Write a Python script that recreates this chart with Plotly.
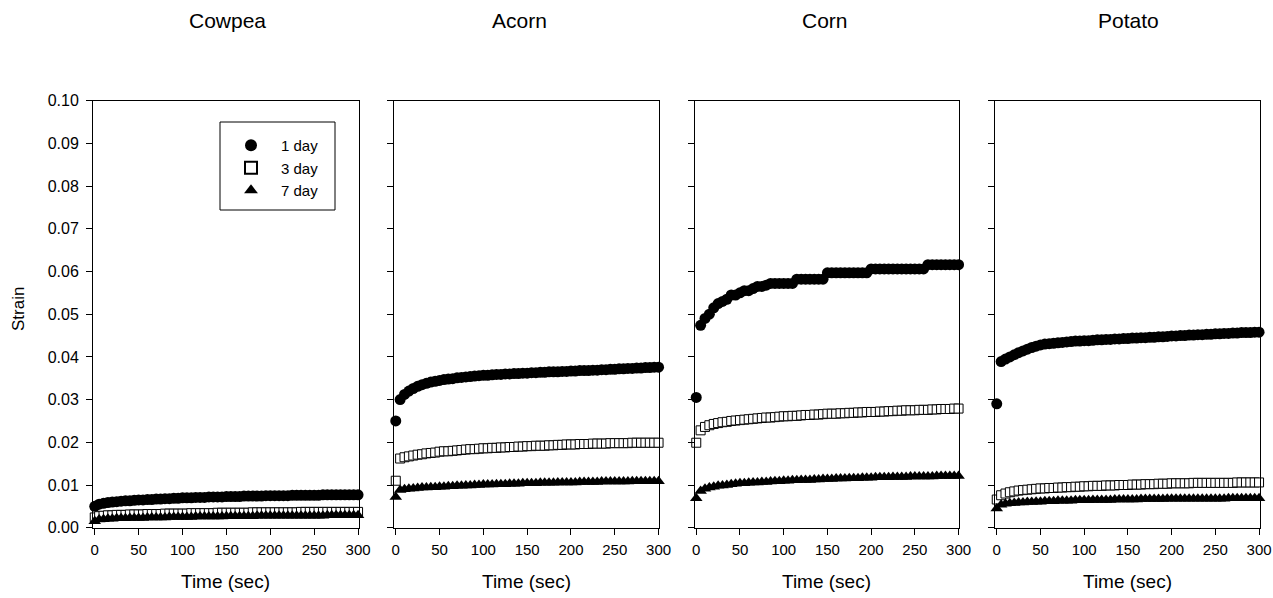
import plotly.graph_objects as go

# ---------------- data ----------------
time_sec = [0, 5, 10, 15, 20, 25, 30, 35, 40, 45, 50,
            55, 60, 65, 70, 75, 80, 85, 90, 95, 100,
            105, 110, 115, 120, 125, 130, 135, 140, 145, 150,
            155, 160, 165, 170, 175, 180, 185, 190, 195, 200,
            205, 210, 215, 220, 225, 230, 235, 240, 245, 250,
            255, 260, 265, 270, 275, 280, 285, 290, 295, 300]

panels = ["Cowpea", "Acorn", "Corn", "Potato"]
series_names = ["1 day", "3 day", "7 day"]

cowpea_1day = [0.0050, 0.0055, 0.0057, 0.0059, 0.0060, 0.0061, 0.0062, 0.0063, 0.0063, 0.0064, 0.0065,
               0.0065, 0.0066, 0.0066, 0.0067, 0.0067, 0.0068, 0.0068, 0.0069, 0.0069, 0.0070,
               0.0070, 0.0070, 0.0071, 0.0071, 0.0071, 0.0072, 0.0072, 0.0072, 0.0072, 0.0073,
               0.0073, 0.0073, 0.0073, 0.0074, 0.0074, 0.0074, 0.0074, 0.0074, 0.0075, 0.0075,
               0.0075, 0.0075, 0.0075, 0.0075, 0.0076, 0.0076, 0.0076, 0.0076, 0.0076, 0.0076,
               0.0076, 0.0077, 0.0077, 0.0077, 0.0077, 0.0077, 0.0077, 0.0077, 0.0077, 0.0077]
cowpea_3day = [0.0024, 0.0027, 0.0028, 0.0029, 0.0029, 0.0030, 0.0030, 0.0030, 0.0031, 0.0031, 0.0031,
               0.0031, 0.0032, 0.0032, 0.0032, 0.0032, 0.0033, 0.0033, 0.0033, 0.0033, 0.0033,
               0.0033, 0.0034, 0.0034, 0.0034, 0.0034, 0.0034, 0.0034, 0.0035, 0.0035, 0.0035,
               0.0035, 0.0035, 0.0035, 0.0035, 0.0035, 0.0036, 0.0036, 0.0036, 0.0036, 0.0036,
               0.0036, 0.0036, 0.0036, 0.0036, 0.0036, 0.0036, 0.0037, 0.0037, 0.0037, 0.0037,
               0.0037, 0.0037, 0.0037, 0.0037, 0.0037, 0.0037, 0.0037, 0.0037, 0.0037, 0.0037]
cowpea_7day = [0.0015, 0.0019, 0.0020, 0.0021, 0.0021, 0.0022, 0.0022, 0.0022, 0.0023, 0.0023, 0.0023,
               0.0023, 0.0024, 0.0024, 0.0024, 0.0024, 0.0024, 0.0025, 0.0025, 0.0025, 0.0025,
               0.0025, 0.0025, 0.0026, 0.0026, 0.0026, 0.0026, 0.0026, 0.0026, 0.0026, 0.0027,
               0.0027, 0.0027, 0.0027, 0.0027, 0.0027, 0.0027, 0.0028, 0.0028, 0.0028, 0.0028,
               0.0028, 0.0028, 0.0028, 0.0028, 0.0028, 0.0028, 0.0028, 0.0028, 0.0028, 0.0028,
               0.0028, 0.0028, 0.0029, 0.0029, 0.0029, 0.0029, 0.0029, 0.0029, 0.0029, 0.0029]

acorn_1day = [0.0250, 0.0300, 0.0312, 0.0320, 0.0326, 0.0331, 0.0335, 0.0338, 0.0341, 0.0343, 0.0345,
              0.0347, 0.0348, 0.0349, 0.0351, 0.0352, 0.0353, 0.0354, 0.0355, 0.0356, 0.0357,
              0.0357, 0.0358, 0.0359, 0.0359, 0.0360, 0.0360, 0.0361, 0.0361, 0.0362, 0.0362,
              0.0363, 0.0363, 0.0364, 0.0364, 0.0365, 0.0365, 0.0365, 0.0366, 0.0366, 0.0367,
              0.0367, 0.0368, 0.0368, 0.0368, 0.0369, 0.0369, 0.0370, 0.0370, 0.0371, 0.0371,
              0.0372, 0.0372, 0.0373, 0.0373, 0.0374, 0.0374, 0.0375, 0.0375, 0.0376, 0.0376]
acorn_3day = [0.0110, 0.0162, 0.0165, 0.0167, 0.0169, 0.0171, 0.0172, 0.0174, 0.0175, 0.0176, 0.0178,
              0.0179, 0.0179, 0.0180, 0.0181, 0.0182, 0.0183, 0.0184, 0.0184, 0.0185, 0.0186,
              0.0186, 0.0187, 0.0187, 0.0188, 0.0188, 0.0189, 0.0189, 0.0190, 0.0190, 0.0191,
              0.0191, 0.0192, 0.0192, 0.0192, 0.0193, 0.0193, 0.0194, 0.0194, 0.0195, 0.0195,
              0.0195, 0.0196, 0.0196, 0.0196, 0.0197, 0.0197, 0.0197, 0.0197, 0.0198, 0.0198,
              0.0198, 0.0198, 0.0198, 0.0199, 0.0199, 0.0199, 0.0199, 0.0199, 0.0199, 0.0199]
acorn_7day = [0.0072, 0.0088, 0.0090, 0.0091, 0.0092, 0.0093, 0.0094, 0.0094, 0.0095, 0.0095, 0.0096,
              0.0096, 0.0097, 0.0097, 0.0098, 0.0098, 0.0099, 0.0099, 0.0100, 0.0100, 0.0101,
              0.0101, 0.0101, 0.0102, 0.0102, 0.0102, 0.0103, 0.0103, 0.0103, 0.0104, 0.0104,
              0.0104, 0.0104, 0.0105, 0.0105, 0.0105, 0.0105, 0.0106, 0.0106, 0.0106, 0.0106,
              0.0106, 0.0107, 0.0107, 0.0107, 0.0107, 0.0107, 0.0108, 0.0108, 0.0108, 0.0108,
              0.0108, 0.0108, 0.0108, 0.0109, 0.0109, 0.0109, 0.0109, 0.0109, 0.0109, 0.0109]

corn_1day = [0.0305, 0.0474, 0.0490, 0.0500, 0.0515, 0.0525, 0.0530, 0.0535, 0.0545, 0.0545, 0.0550,
             0.0555, 0.0555, 0.0560, 0.0565, 0.0565, 0.0568, 0.0572, 0.0572, 0.0572, 0.0572,
             0.0572, 0.0572, 0.0582, 0.0582, 0.0582, 0.0582, 0.0582, 0.0582, 0.0582, 0.0597,
             0.0597, 0.0597, 0.0597, 0.0597, 0.0597, 0.0597, 0.0597, 0.0597, 0.0597, 0.0606,
             0.0606, 0.0606, 0.0606, 0.0606, 0.0606, 0.0606, 0.0606, 0.0606, 0.0606, 0.0606,
             0.0606, 0.0606, 0.0616, 0.0616, 0.0616, 0.0616, 0.0616, 0.0616, 0.0616, 0.0616]
corn_3day = [0.0199, 0.0228, 0.0236, 0.0240, 0.0243, 0.0245, 0.0247, 0.0248, 0.0250, 0.0251, 0.0252,
             0.0253, 0.0254, 0.0255, 0.0256, 0.0257, 0.0258, 0.0258, 0.0259, 0.0260, 0.0261,
             0.0261, 0.0262, 0.0262, 0.0263, 0.0264, 0.0264, 0.0265, 0.0265, 0.0266, 0.0267,
             0.0267, 0.0267, 0.0268, 0.0268, 0.0269, 0.0269, 0.0270, 0.0270, 0.0271, 0.0271,
             0.0271, 0.0272, 0.0272, 0.0273, 0.0273, 0.0274, 0.0274, 0.0275, 0.0275, 0.0275,
             0.0276, 0.0276, 0.0276, 0.0277, 0.0277, 0.0278, 0.0278, 0.0278, 0.0279, 0.0279]
corn_7day = [0.0069, 0.0086, 0.0091, 0.0094, 0.0096, 0.0098, 0.0099, 0.0100, 0.0102, 0.0103, 0.0104,
             0.0104, 0.0105, 0.0106, 0.0106, 0.0107, 0.0107, 0.0108, 0.0109, 0.0109, 0.0110,
             0.0110, 0.0111, 0.0111, 0.0112, 0.0112, 0.0112, 0.0113, 0.0113, 0.0114, 0.0114,
             0.0114, 0.0115, 0.0115, 0.0115, 0.0116, 0.0116, 0.0116, 0.0117, 0.0117, 0.0117,
             0.0118, 0.0118, 0.0118, 0.0118, 0.0119, 0.0119, 0.0119, 0.0119, 0.0120, 0.0120,
             0.0120, 0.0120, 0.0120, 0.0120, 0.0121, 0.0121, 0.0121, 0.0121, 0.0121, 0.0121]

potato_1day = [0.0290, 0.0389, 0.0395, 0.0400, 0.0405, 0.0410, 0.0414, 0.0418, 0.0422, 0.0425, 0.0428,
               0.0430, 0.0431, 0.0432, 0.0433, 0.0434, 0.0435, 0.0436, 0.0437, 0.0437, 0.0438,
               0.0438, 0.0439, 0.0440, 0.0440, 0.0441, 0.0441, 0.0442, 0.0442, 0.0443, 0.0443,
               0.0444, 0.0444, 0.0445, 0.0445, 0.0446, 0.0446, 0.0447, 0.0447, 0.0448, 0.0449,
               0.0449, 0.0450, 0.0450, 0.0451, 0.0451, 0.0452, 0.0452, 0.0453, 0.0453, 0.0454,
               0.0454, 0.0455, 0.0455, 0.0456, 0.0456, 0.0457, 0.0457, 0.0457, 0.0458, 0.0458]
potato_3day = [0.0066, 0.0076, 0.0080, 0.0083, 0.0085, 0.0087, 0.0088, 0.0089, 0.0090, 0.0091, 0.0092,
               0.0092, 0.0093, 0.0093, 0.0094, 0.0094, 0.0095, 0.0095, 0.0096, 0.0096, 0.0097,
               0.0097, 0.0098, 0.0098, 0.0098, 0.0099, 0.0099, 0.0099, 0.0100, 0.0100, 0.0100,
               0.0101, 0.0101, 0.0101, 0.0102, 0.0102, 0.0102, 0.0103, 0.0103, 0.0103, 0.0104,
               0.0104, 0.0104, 0.0104, 0.0104, 0.0105, 0.0105, 0.0105, 0.0105, 0.0105, 0.0105,
               0.0105, 0.0105, 0.0105, 0.0105, 0.0106, 0.0106, 0.0106, 0.0106, 0.0106, 0.0106]
potato_7day = [0.0045, 0.0054, 0.0056, 0.0057, 0.0058, 0.0059, 0.0059, 0.0060, 0.0060, 0.0061, 0.0061,
               0.0062, 0.0062, 0.0062, 0.0063, 0.0063, 0.0063, 0.0063, 0.0064, 0.0064, 0.0064,
               0.0064, 0.0065, 0.0065, 0.0065, 0.0065, 0.0065, 0.0066, 0.0066, 0.0066, 0.0066,
               0.0066, 0.0066, 0.0067, 0.0067, 0.0067, 0.0067, 0.0067, 0.0067, 0.0068, 0.0068,
               0.0068, 0.0068, 0.0068, 0.0068, 0.0068, 0.0068, 0.0068, 0.0068, 0.0068, 0.0068,
               0.0068, 0.0068, 0.0069, 0.0069, 0.0069, 0.0069, 0.0069, 0.0069, 0.0069, 0.0069]

panel_series = [
    [cowpea_1day, cowpea_3day, cowpea_7day],
    [acorn_1day, acorn_3day, acorn_7day],
    [corn_1day, corn_3day, corn_7day],
    [potato_1day, potato_3day, potato_7day],
]

x_ticks = [0, 50, 100, 150, 200, 250, 300]
y_ticks = [0.00, 0.01, 0.02, 0.03, 0.04, 0.05, 0.06, 0.07, 0.08, 0.09, 0.10]

# ---------------- layout helpers ----------------
W, H = 1273, 598
FONT = "Liberation Sans, Arial, sans-serif"
px_domains = [(93, 358.5), (394, 659), (694.5, 959), (995, 1259.5)]
title_px = [227, 519, 825, 1128]
y_dom = [1 - 527.7 / H, 1 - 100.7 / H]

marker_styles = [
    dict(symbol="circle", size=11, color="black", line=dict(color="black", width=0)),
    dict(symbol="square", size=9, color="white", line=dict(color="black", width=1)),
    dict(symbol="triangle-up", size=11, color="black", line=dict(color="black", width=0)),
]

fig = go.Figure()
layout = dict(
    width=W, height=H,
    margin=dict(l=0, r=0, t=0, b=0, autoexpand=False),
    paper_bgcolor="white", plot_bgcolor="white",
    font=dict(family=FONT, color="black", size=14),
    showlegend=True,
)

annotations = []
for i, name in enumerate(panels):
    ax = "" if i == 0 else str(i + 1)
    xref = "x" + ax
    yref = "y" + ax
    for j, sname in enumerate(series_names):
        fig.add_trace(go.Scatter(
            x=time_sec, y=panel_series[i][j], mode="markers",
            name=sname, legendgroup=sname, showlegend=(i == 0),
            marker=marker_styles[j], xaxis=xref, yaxis=yref,
            cliponaxis=False,
        ))
    d0, d1 = px_domains[i]
    layout["xaxis" + ax] = dict(
        domain=[d0 / W, d1 / W], range=[-2, 300.5],
        tickmode="array", tickvals=x_ticks, ticktext=[str(v) for v in x_ticks],
        ticks="outside", ticklen=6, tickwidth=1, tickcolor="black",
        showline=True, linecolor="black", linewidth=1, mirror=True,
        showgrid=False, zeroline=False, anchor=yref,
        tickfont=dict(size=15, family=FONT, color="black"),
        ticklabelstandoff=2,
        automargin=False,
    )
    layout["yaxis" + ax] = dict(
        domain=y_dom, range=[0, 0.10],
        tickmode="array", tickvals=y_ticks,
        ticktext=[f"{v:.2f}" for v in y_ticks],
        showticklabels=(i == 0),
        ticks="outside", ticklen=6, tickwidth=1, tickcolor="black",
        showline=True, linecolor="black", linewidth=1, mirror=True,
        showgrid=False, zeroline=False, anchor=xref,
        tickfont=dict(size=16, family=FONT, color="black"),
        ticklabelstandoff=4,
        automargin=False,
    )
    cx = (d0 + d1) / 2 / W
    annotations.append(dict(text=name, x=title_px[i] / W, y=1 - 21 / H, xref="paper", yref="paper",
                            showarrow=False, xanchor="center", yanchor="middle",
                            font=dict(size=21, family=FONT, color="black")))
    annotations.append(dict(text="Time (sec)", x=cx, y=1 - 581 / H, xref="paper", yref="paper",
                            showarrow=False, xanchor="center", yanchor="middle",
                            font=dict(size=19, family=FONT, color="black")))

annotations.append(dict(text="Strain", x=18 / W, y=1 - 309 / H, xref="paper", yref="paper",
                        showarrow=False, xanchor="center", yanchor="middle", textangle=-90,
                        font=dict(size=17, family=FONT, color="black")))

layout["annotations"] = annotations
layout["shapes"] = [dict(type="rect", xref="paper", yref="paper",
                         x0=220 / W, x1=335 / W, y0=1 - 210 / H, y1=1 - 122 / H,
                         line=dict(color="black", width=1), fillcolor="rgba(0,0,0,0)")]
layout["legend"] = dict(
    x=221 / W, y=1 - 129 / H, xanchor="left", yanchor="top",
    bgcolor="rgba(0,0,0,0)", borderwidth=0,
    font=dict(size=15, family=FONT, color="black"),
    itemwidth=50, tracegroupgap=0, itemsizing="constant",
)

fig.update_layout(**layout)
fig.write_html("out.html")
